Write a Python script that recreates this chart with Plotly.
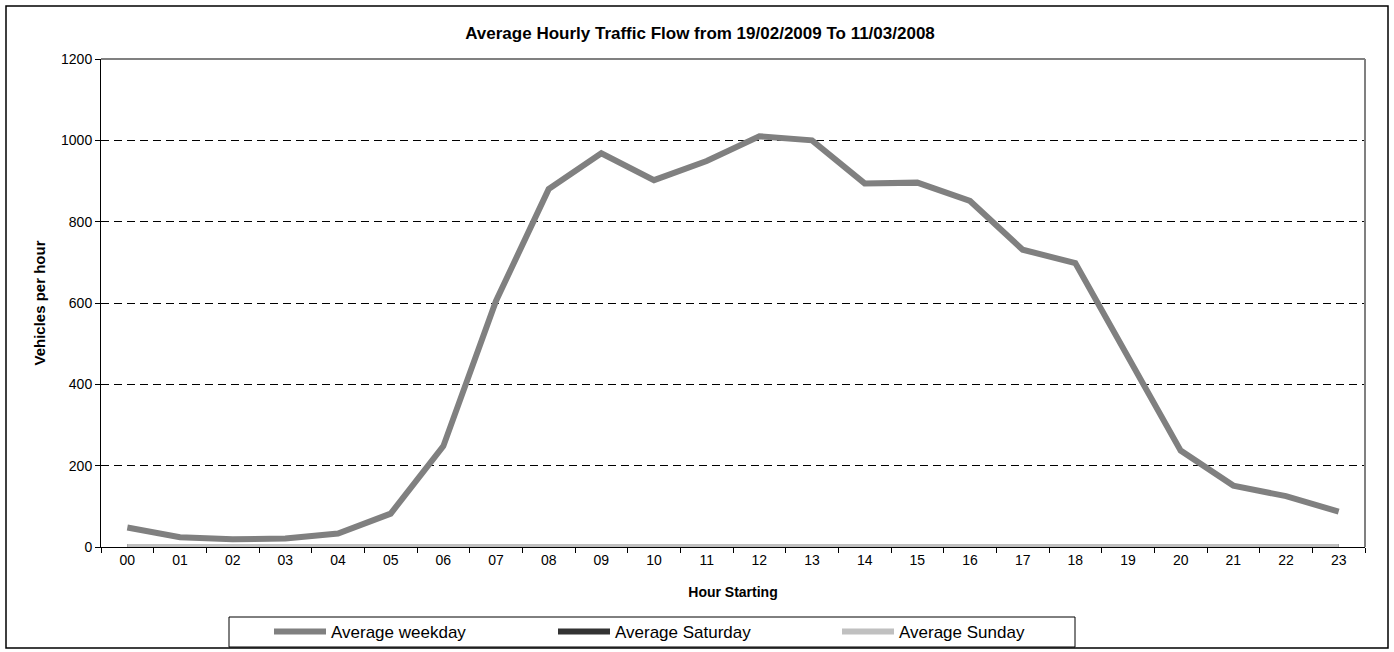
import plotly.graph_objects as go

hours = ["00", "01", "02", "03", "04", "05", "06", "07", "08", "09", "10", "11",
         "12", "13", "14", "15", "16", "17", "18", "19", "20", "21", "22", "23"]
weekday = [48, 24, 19, 21, 33, 82, 248, 605, 880, 968, 902, 949,
           1010, 1000, 894, 896, 851, 731, 698, 470, 237, 151, 125, 87]
saturday = [0] * 24
sunday = [0] * 24

title_text = "Average Hourly Traffic Flow from 19/02/2009 To 11/03/2008"
FONT = "Liberation Sans, Arial, sans-serif"

W, H = 1394, 652
L, R, T, B = 101, 1365, 59, 547   # plot area in page pixels
PW, PH = R - L, B - T

fig = go.Figure()
fig.add_trace(go.Scatter(x=hours, y=weekday, mode="lines", name="Average weekday",
                         line=dict(color="#808080", width=6)))
fig.add_trace(go.Scatter(x=hours, y=saturday, mode="lines", name="Average Saturday",
                         line=dict(color="#333333", width=6)))
fig.add_trace(go.Scatter(x=hours, y=sunday, mode="lines", name="Average Sunday",
                         line=dict(color="#C0C0C0", width=6)))

fig.update_layout(
    width=W, height=H,
    margin=dict(l=L, r=W - R, t=T, b=H - B, autoexpand=False),
    paper_bgcolor="white", plot_bgcolor="white",
    font=dict(family=FONT, size=14, color="black"),
    title=dict(text="<b>" + title_text + "</b>", x=700 / W, xanchor="center",
               y=1 - 33 / H, yanchor="middle", font=dict(size=17)),
    showlegend=True,
    legend=dict(orientation="h", x=(269 - L) / PW, y=(B - 632) / PH,
                xanchor="left", yanchor="middle",
                borderwidth=0, bgcolor="rgba(0,0,0,0)",
                font=dict(size=17), entrywidth=217, itemwidth=52,
                tracegroupgap=0),
    xaxis=dict(type="category", tickson="boundaries", ticks="outside", ticklen=5,
               tickcolor="black", showline=True, linecolor="black", linewidth=1,
               showgrid=False, range=[-0.5, 23.5],
               title=dict(text="<b>Hour Starting</b>", font=dict(size=14), standoff=20)),
    yaxis=dict(range=[0, 1200], dtick=200, ticks="outside", ticklen=5,
               tickcolor="black", showline=True, linecolor="black", linewidth=1,
               showgrid=True, gridcolor="black", gridwidth=1, griddash="8px,5px",
               zeroline=False,
               title=dict(text="<b>Vehicles per hour</b>", font=dict(size=15), standoff=11)),
    shapes=[
        dict(type="line", xref="paper", yref="paper", x0=0, x1=1, y0=1, y1=1,
             line=dict(color="#808080", width=2), layer="above"),
        dict(type="line", xref="paper", yref="paper", x0=1, x1=1, y0=0, y1=1,
             line=dict(color="#808080", width=2), layer="above"),
        # legend frame
        dict(type="rect", xref="paper", yref="paper",
             x0=(229 - L) / PW, x1=(1075 - L) / PW,
             y0=(B - 647) / PH, y1=(B - 617) / PH,
             line=dict(color="black", width=1), fillcolor="rgba(0,0,0,0)", layer="above"),
        # outer chart frame
        dict(type="rect", xref="paper", yref="paper",
             x0=(6 - L) / PW, x1=(1388 - L) / PW,
             y0=(B - 648) / PH, y1=(B - 6) / PH,
             line=dict(color="black", width=1.5), fillcolor="rgba(0,0,0,0)", layer="above"),
    ],
)

fig.write_html("out.html", config={"displayModeBar": False},
               post_script="document.body.style.margin='0';")
